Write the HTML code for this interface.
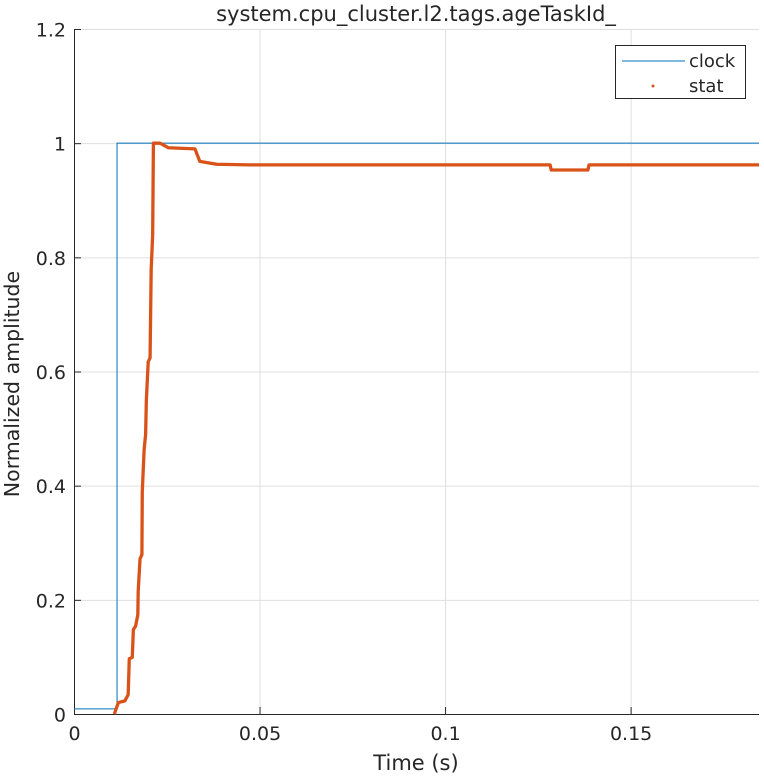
<!DOCTYPE html>
<html><head><meta charset="utf-8"><style>
body{margin:0;background:#fff;}
svg text{font-family:"DejaVu Sans","Liberation Sans",sans-serif;fill:#262626;}
</style></head><body>
<svg id="chart" width="764" height="776" xmlns="http://www.w3.org/2000/svg">
<rect width="764" height="776" fill="#fff"/>
<g id="grid"></g>
<g id="ticks"></g>
<text x="416" y="21" text-anchor="middle" font-size="21">system.cpu_cluster.l2.tags.ageTaskId_</text>
<text x="416" y="770" text-anchor="middle" font-size="21">Time (s)</text>
<text x="19" y="384" text-anchor="middle" font-size="20.5" transform="rotate(-90 19 384)">Normalized amplitude</text>
<g id="series"></g>
<g>
<rect x="615.5" y="45.5" width="130" height="53" fill="#fff" stroke="#262626" stroke-width="1"/>
<line x1="622" y1="61" x2="685" y2="61" stroke="#0072BD" stroke-width="1"/>
<text x="689" y="67" font-size="18">clock</text>
<circle cx="653" cy="86" r="1.5" fill="#D95319"/>
<text x="689" y="92" font-size="18">stat</text>
</g>
</svg>
<script>
const xTicks=[0,0.05,0.1,0.15];
const xTickLabels=["0","0.05","0.1","0.15"];
const yTicks=[0,0.2,0.4,0.6,0.8,1,1.2];
const yTickLabels=["0","0.2","0.4","0.6","0.8","1","1.2"];
const clockX=[0,0.0116,0.0116,0.1846];
const clockY=[0.009,0.009,1,1];
const statX=[0.01087,0.01195,0.0137,0.0146,0.0149,0.0157,0.0160,0.0166,0.0172,0.0173,0.0178,0.0183,0.0184,0.0189,0.0193,0.0195,0.0200,0.0205,0.0208,0.0212,0.0214,0.0232,0.0254,0.0326,0.0339,0.0384,0.0474,0.1283,0.1286,0.1385,0.1388,0.1846];
const statY=[0,0.02,0.023,0.034,0.097,0.099,0.148,0.154,0.174,0.215,0.272,0.279,0.389,0.463,0.49,0.55,0.617,0.624,0.779,0.839,1,1,0.992,0.99,0.968,0.963,0.962,0.962,0.953,0.953,0.962,0.962];
const X0=74,X1=759,Y0=714,Y1=29,XMAX=0.1846,YMAX=1.2;
const xs=v=>X0+v/XMAX*(X1-X0);
const ys=v=>Y0-v/YMAX*(Y0-Y1);
const NS="http://www.w3.org/2000/svg";
function mk(t,a,p){const e=document.createElementNS(NS,t);for(const k in a)e.setAttribute(k,a[k]);p.appendChild(e);return e;}
const gridG=document.getElementById('grid'),ticksG=document.getElementById('ticks'),seriesG=document.getElementById('series');
xTicks.forEach((v,i)=>{const x=xs(v)+0.5;
 if(i>0){const g=mk('line',{x1:x,x2:x,y1:Y1,y2:Y0,stroke:'#dfdfdf','stroke-width':1},gridG);
 
 }
 const t=mk('line',{x1:x,x2:x,y1:Y0,y2:Y0-7,stroke:'#262626'},ticksG);
 
 
 const l=mk('text',{x:x,y:Y0+26,'text-anchor':'middle','font-size':19},ticksG);l.textContent=xTickLabels[i];
 
 });
yTicks.forEach((v,i)=>{const y=ys(v)+0.5;
 if(i>0&&i<yTicks.length-1){const g=mk('line',{x1:X0,x2:X1,y1:y,y2:y,stroke:'#dfdfdf','stroke-width':1},gridG);
 
 }
 const t=mk('line',{x1:X0,x2:X0+7,y1:y,y2:y,stroke:'#262626'},ticksG);
 
 
 const l=mk('text',{x:X0-8,y:y+7,'text-anchor':'end','font-size':19},ticksG);l.textContent=yTickLabels[i];
 
 });
const topBorder=mk('line',{x1:X0,x2:X1,y1:Y1+0.5,y2:Y1+0.5,stroke:'#dfdfdf'},gridG);


const axesPath=mk('path',{d:`M${X0+0.5},${Y1} V${Y0+0.5} H${X1}`,fill:'none',stroke:'#262626','stroke-width':1},ticksG);


const clockLine=mk('polyline',{points:clockX.map((v,i)=>xs(v)+','+ys(clockY[i])).join(' '),fill:'none',stroke:'#0072BD','stroke-width':1},seriesG);


const statLine=mk('polyline',{points:statX.map((v,i)=>xs(v)+','+ys(statY[i])).join(' '),fill:'none',stroke:'#D95319','stroke-width':3.3,'stroke-linejoin':'round'},seriesG);


</script>
</body></html>
